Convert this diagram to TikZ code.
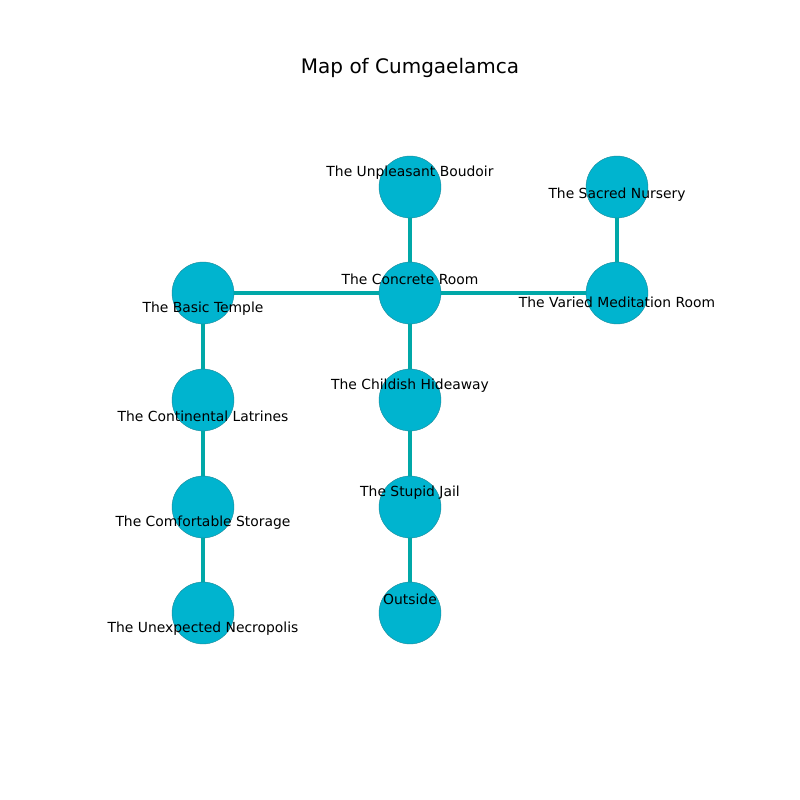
\documentclass[tikz,border=0pt]{standalone}
\usepackage{fontspec}
\setmainfont{DejaVu Sans}
\definecolor{nodefill}{HTML}{00B4CF}
\definecolor{nodeedge}{HTML}{1A8A9A}
\definecolor{edgecol}{HTML}{00A8A8}
\begin{document}
\begin{tikzpicture}[x=0.72pt,y=-0.72pt,
  room/.style={circle,fill=nodefill,draw=nodeedge,line width=0.3pt,minimum size=44.6pt,inner sep=0pt},
  lbl/.style={font=\fontsize{10}{12}\selectfont,inner sep=0pt,text=black},
  link/.style={draw=edgecol,line width=3.2pt}]
\useasboundingbox (0,0) rectangle (800,800);
\node[font=\fontsize{14.4}{16}\selectfont] (title) at (410,68) {Map of Cumgaelamca};
% rooms
\node[room] (ub) at (410,187) {};
\node[room] (sn) at (617,187) {};
\node[room] (bt) at (203,293) {};
\node[room] (cr) at (410,293) {};
\node[room] (vm) at (617,293) {};
\node[room] (cl) at (203,400) {};
\node[room] (ch) at (410,400) {};
\node[room] (cs) at (203,507) {};
\node[room] (sj) at (410,507) {};
\node[room] (un) at (203,613) {};
\node[room] (out) at (410,613) {};
% links
\path[link] (ub) -- (cr);
\path[link] (sn) -- (vm);
\path[link] (bt) -- (cr);
\path[link] (cr) -- (vm);
\path[link] (cr) -- (ch);
\path[link] (ch) -- (sj);
\path[link] (sj) -- (out);
\path[link] (bt) -- (cl);
\path[link] (cl) -- (cs);
\path[link] (cs) -- (un);
% labels
\node[lbl] (l-ub) at (410,173) {The Unpleasant Boudoir};
\node[lbl] (l-sn) at (617,195) {The Sacred Nursery};
\node[lbl] (l-cr) at (410,279) {The Concrete Room};
\node[lbl] (l-bt) at (203,309) {The Basic Temple};
\node[lbl] (l-vm) at (617,302) {The Varied Meditation Room};
\node[lbl] (l-cl) at (203,416) {The Continental Latrines};
\node[lbl] (l-ch) at (410,386) {The Childish Hideaway};
\node[lbl] (l-cs) at (203,523) {The Comfortable Storage};
\node[lbl] (l-sj) at (410,493) {The Stupid Jail};
\node[lbl] (l-un) at (203,629) {The Unexpected Necropolis};
\node[lbl] (l-out) at (410,599) {Outside};
\end{tikzpicture}
\end{document}
